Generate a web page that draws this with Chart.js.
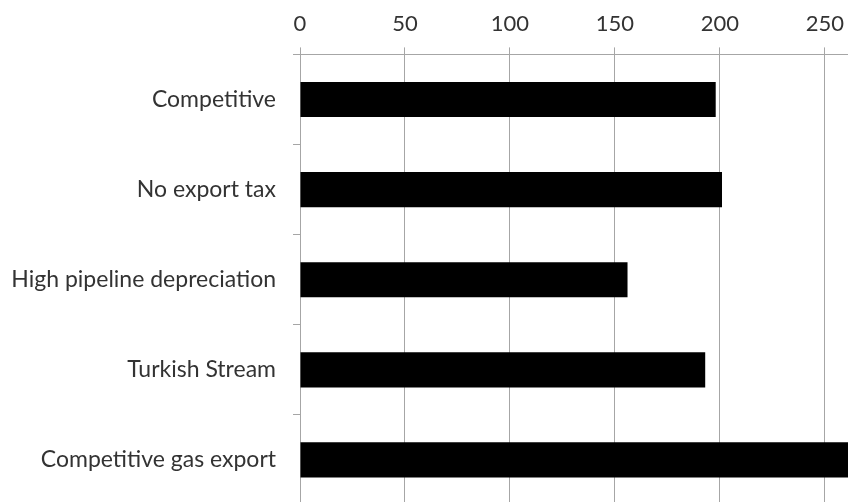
<!DOCTYPE html>
<html>
<head>
<meta charset="utf-8">
<script src="https://cdn.jsdelivr.net/npm/chart.js@4/dist/chart.umd.min.js"></script>
<style>
html, body { margin: 0; padding: 0; overflow: hidden; background: #fff; }
#wrap { position: absolute; left: 0; top: 0; width: 959px; height: 505px; }
</style>
</head>
<body>
<div id="wrap"><canvas id="canvas"></canvas></div>
<script>
// scenarios, top to bottom
var scenarios = ['Competitive', 'No export tax', 'High pipeline depreciation', 'Turkish Stream', 'Competitive gas export'];
var values = [198, 201, 156, 193, 265];
var xTicks = [0, 50, 100, 150, 200, 250, 300];

var gridGray = '#a6a6a6';
var textGray = '#333333';

var ctx = document.getElementById('canvas').getContext('2d');
var chart = new Chart(ctx, {
	type: 'bar',
	data: {
		labels: scenarios,
		datasets: [{
			data: values,
			backgroundColor: '#000000',
			borderWidth: 0,
			categoryPercentage: 0.39,
			barPercentage: 1
		}]
	},
	options: {
		indexAxis: 'y',
		responsive: true,
		maintainAspectRatio: false,
		animation: false,
		layout: { padding: { top: 1, left: 0, right: 0, bottom: 0 } },
		plugins: { legend: { display: false }, tooltip: { enabled: false } },
		scales: {
			x: {
				position: 'top',
				min: 0,
				max: 300,
				afterBuildTicks: function(scale) {
					scale.ticks = xTicks.map(function(v) { return { value: v }; });
				},
				grid: { color: gridGray, lineWidth: 1, tickLength: 7 },
				border: { color: gridGray },
				ticks: {
					color: textGray,
					padding: 10,
					maxRotation: 0,
					font: { family: 'Lato', size: 22 }
				}
			},
			y: {
				afterFit: function(scale) {
					scale.width = 300;
					// no extra room above/below the first and last category
					scale.paddingTop = 0;
					scale.paddingBottom = 0;
				},
				grid: { drawOnChartArea: false, color: gridGray, tickLength: 7 },
				border: { color: gridGray },
				ticks: {
					color: textGray,
					padding: 17,
					font: { family: 'Lato', size: 23 }
				}
			}
		}
	}
});
</script>
</body>
</html>
